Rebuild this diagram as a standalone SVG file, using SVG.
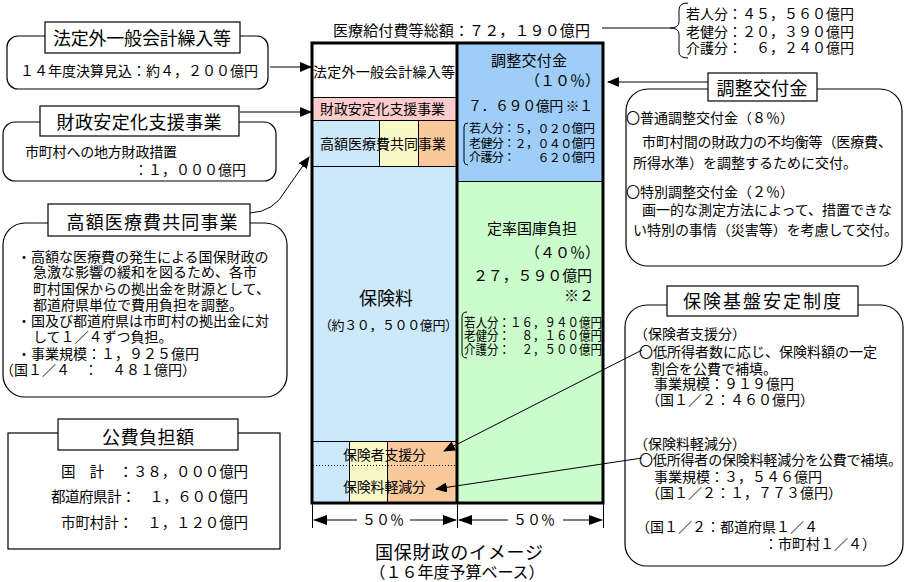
<svg xmlns="http://www.w3.org/2000/svg" width="905" height="582" viewBox="0 0 905 582">
<defs>
<style>
text{font-family:"Noto Sans CJK JP","Noto Sans CJK SC",sans-serif;fill:#000}
.f12{font-size:12px}
.f13{font-size:13px}
.f14{font-size:14px}
.f15{font-size:15px}
.f16{font-size:16px}
.f18{font-size:18px}
.mid{text-anchor:middle}
.end{text-anchor:end}
.box{fill:#fff;stroke:#000;stroke-width:1.2}
.ln{fill:none;stroke:#000;stroke-width:1}
.arr{fill:none;stroke:#000;stroke-width:1;marker-end:url(#ah)}
</style>
<marker id="ah" viewBox="0 0 12 10" refX="11" refY="5" markerWidth="12" markerHeight="10" markerUnits="userSpaceOnUse" orient="auto"><path d="M0,0 L12,5 L0,10 z" fill="#000"/></marker>
<marker id="ah2" viewBox="0 0 14 10" refX="13" refY="5" markerWidth="14" markerHeight="10" markerUnits="userSpaceOnUse" orient="auto"><path d="M0,0 L14,5 L0,10 z" fill="#000"/></marker>
</defs>
<rect width="905" height="582" fill="#fff"/>

<g id="chart">
<rect x="312" y="43" width="145" height="54" fill="#fff"/>
<rect x="312" y="97" width="145" height="23" fill="#fccccc"/>
<rect x="312" y="120" width="67" height="46" fill="#cce9fb"/>
<rect x="379" y="120" width="39" height="46" fill="#fafac8"/>
<rect x="418" y="120" width="39" height="46" fill="#f9c99b"/>
<rect x="312" y="166" width="145" height="276" fill="#cce9fb"/>
<rect x="312" y="442" width="37" height="61" fill="#cce9fb"/>
<rect x="349" y="442" width="38" height="61" fill="#fafac8"/>
<rect x="387" y="442" width="70" height="61" fill="#f9c99b"/>
<rect x="457" y="43" width="146" height="139" fill="#9dcdf8"/>
<rect x="457" y="182" width="146" height="321" fill="#cbfccb"/>
<path class="ln" d="M312,97.5H457 M312,120.5H457 M312,166.5H457 M379.5,120V166 M418.5,120V166 M312,441.5H457 M349.5,442V503 M387.5,442V503 M457,181.5H603"/>
<path d="M313,465.5H456" stroke="#000" stroke-width="1" stroke-dasharray="1,2"/>
<path d="M457,43V503" stroke="#000" stroke-width="3"/>
<rect x="312" y="43" width="291" height="460" fill="none" stroke="#000" stroke-width="3"/>
<path class="ln" d="M312.5,503V528 M457.5,503V528 M603.5,503V528"/>

<text class="f15" x="333" y="36" textLength="257">医療給付費等総額：７２，１９０億円</text>
<text class="f14" x="313" y="77" textLength="142">法定外一般会計繰入等</text>
<text class="f14" x="320" y="114" textLength="125">財政安定化支援事業</text>
<text class="f14" x="320" y="149" textLength="126">高額医療費共同事業</text>
<text class="f15" x="491" y="66" textLength="76">調整交付金</text>
<text class="f15 end" x="600" y="86">（１０％）</text>
<text class="f14" x="468" y="111" textLength="125">７．６９０億円 ※１</text>
<path class="ln" d="M468,123 Q464,123 464,127 L464,161 Q464,165 468,165"/>
<text class="f12" x="469" y="133" textLength="126">若人分：５，０２０億円</text>
<text class="f12" x="469" y="148" textLength="126">老健分：２，０４０億円</text>
<text class="f12" x="469" y="162" textLength="126">介護分：　　６２０億円</text>
<text class="f15" x="487" y="234" textLength="90">定率国庫負担</text>
<text class="f15 end" x="600" y="258">（４０％）</text>
<text class="f15" x="473" y="281" textLength="119">２７，５９０億円</text>
<text class="f15 end" x="594" y="301">※２</text>
<text class="f18 mid" x="386" y="305">保険料</text>
<text class="f13" x="319" y="330" textLength="139">（約３０，５００億円）</text>
<path class="ln" d="M467,312 Q462,312 462,317 L462,353 Q462,358 467,358"/>
<text class="f13" x="464" y="327" textLength="138" lengthAdjust="spacingAndGlyphs">若人分：１６，９４０億円</text>
<text class="f13" x="464" y="340" textLength="138" lengthAdjust="spacingAndGlyphs">老健分：　８，１６０億円</text>
<text class="f13" x="464" y="354" textLength="138" lengthAdjust="spacingAndGlyphs">介護分：　２，５００億円</text>
<text class="f14" x="343" y="460" textLength="83">保険者支援分</text>
<text class="f14" x="343" y="492" textLength="83">保険料軽減分</text>
<text class="f14 mid" x="383" y="525">５０％</text>
<text class="f14 mid" x="534" y="525">５０％</text>
<text class="f18 mid" x="459" y="559" textLength="168">国保財政のイメージ</text>
<text class="f16 mid" x="457" y="578">（１６年度予算ベース）</text>
</g>

<g id="sum-brace">
<path class="ln" d="M688,3 Q679,3 679,10 L679,22 Q679,28 670,28 Q679,28 679,34 L679,52 Q679,58 688,58"/>
<text class="f14" x="686" y="19" textLength="168">若人分：４５，５６０億円</text>
<text class="f14" x="686" y="37" textLength="168">老健分：２０，３９０億円</text>
<text class="f14" x="686" y="53" textLength="168">介護分：　６，２４０億円</text>
</g>

<g id="box-hoteigai">
<rect class="box" x="7" y="36" width="261" height="53" rx="11"/>
<rect class="box" x="45" y="22" width="195" height="31"/>
<text class="f18 mid" x="142" y="45" textLength="178">法定外一般会計繰入等</text>
<text class="f14" x="20" y="76" textLength="238">１４年度決算見込：約４，２００億円</text>
</g>

<g id="box-zaisei">
<rect class="box" x="3" y="122" width="273" height="59" rx="12"/>
<rect class="box" x="40" y="106" width="199" height="30"/>
<text class="f18 mid" x="139" y="129" textLength="165">財政安定化支援事業</text>
<text class="f14" x="25" y="157" textLength="152">市町村への地方財政措置</text>
<text class="f14" x="134" y="175">：１，０００億円</text>
</g>

<g id="box-kougaku">
<rect class="box" x="3" y="223" width="284" height="174" rx="22"/>
<rect class="box" x="48" y="204" width="202" height="32"/>
<text class="f18 mid" x="152" y="229" textLength="171">高額医療費共同事業</text>
<text class="f14" x="17" y="262">・高額な医療費の発生による国保財政の</text>
<text class="f14" x="33" y="277">急激な影響の緩和を図るため、各市</text>
<text class="f14" x="33" y="294">町村国保からの拠出金を財源として、</text>
<text class="f14" x="33" y="310">都道府県単位で費用負担を調整。</text>
<text class="f14" x="17" y="326">・国及び都道府県は市町村の拠出金に対</text>
<text class="f14" x="33" y="342">して１／４ずつ負担。</text>
<text class="f14" x="17" y="359">・事業規模：１，９２５億円</text>
<text class="f14" x="0" y="375">（国１／４　：　４８１億円）</text>
</g>

<g id="box-kouhi">
<rect class="box" x="8" y="433" width="272" height="116"/>
<rect class="box" x="58" y="419" width="180" height="31"/>
<text class="f18 mid" x="148" y="444" textLength="92">公費負担額</text>
<text class="f14" x="61" y="477" textLength="187" style="font-size:14.5px">国　計　：３８，０００億円</text>
<text class="f14" x="51" y="502" textLength="197" style="font-size:14.5px">都道府県計：　１，６００億円</text>
<text class="f14" x="61" y="528" textLength="187" style="font-size:14.5px">市町村計：　１，１２０億円</text>
</g>

<g id="box-chousei">
<rect class="box" x="626" y="89" width="276" height="177" rx="22"/>
<rect class="box" x="708" y="73" width="109" height="28"/>
<text class="f18 mid" x="762" y="95" textLength="91">調整交付金</text>
<text class="f14" x="626" y="123">〇普通調整交付金（８％）</text>
<text class="f14" x="642" y="147" textLength="250">市町村間の財政力の不均衡等（医療費、</text>
<text class="f14" x="633" y="168">所得水準）を調整するために交付。</text>
<text class="f14" x="626" y="197">〇特別調整交付金（２％）</text>
<text class="f14" x="642" y="215" textLength="250">画一的な測定方法によって、措置できな</text>
<text class="f14" x="633" y="235" textLength="265">い特別の事情（災害等）を考慮して交付。</text>
</g>

<g id="box-kiban">
<rect class="box" x="625" y="305" width="278" height="261" rx="22"/>
<rect class="box" x="667" y="286" width="191" height="30"/>
<text class="f18 mid" x="762" y="308" textLength="158">保険基盤安定制度</text>
<text class="f14" x="634" y="339">（保険者支援分）</text>
<text class="f14" x="639" y="357">〇低所得者数に応じ、保険料額の一定</text>
<text class="f14" x="651" y="374">割合を公費で補填。</text>
<text class="f14" x="654" y="389">事業規模：９１９億円</text>
<text class="f14" x="646" y="405">（国１／２：４６０億円）</text>
<text class="f14" x="634" y="449">（保険料軽減分）</text>
<text class="f14" x="639" y="465" textLength="263">〇低所得者の保険料軽減分を公費で補填。</text>
<text class="f14" x="654" y="482">事業規模：３，５４６億円</text>
<text class="f14" x="646" y="498">（国１／２：１，７７３億円）</text>
<text class="f14" x="636" y="532">（国１／２：都道府県１／４</text>
<text class="f14" x="764" y="549">：市町村１／４）</text>
</g>

<g id="connectors">
<path class="arr" d="M270,67 H311"/>
<path class="arr" d="M240,112 H311"/>
<path class="arr" d="M250,213 Q274,212 286,190 L309,157"/>
<path class="arr" d="M708,82 H608"/>
<path class="ln" d="M602,28 H670"/>
<path class="arr" d="M642,350 L444,451"/>
<path class="arr" d="M642,458 L436,489"/>
<path class="ln" d="M357,520 H314" marker-end="url(#ah2)"/>
<path class="ln" d="M410,520 H456" marker-end="url(#ah2)"/>
<path class="ln" d="M508,520 H459" marker-end="url(#ah2)"/>
<path class="ln" d="M563,520 H602" marker-end="url(#ah2)"/>
</g>
</svg>
